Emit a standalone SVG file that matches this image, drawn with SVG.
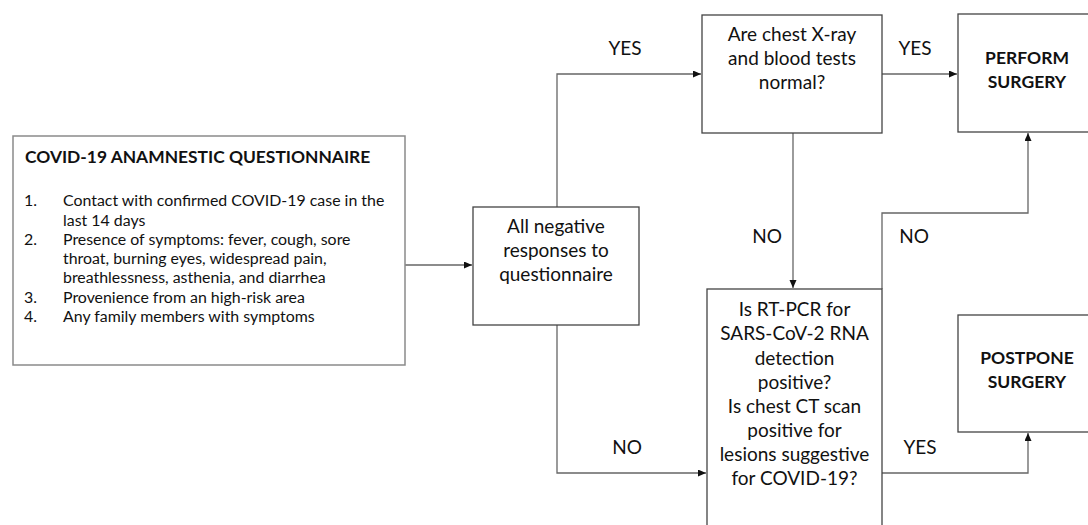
<svg xmlns="http://www.w3.org/2000/svg" width="1088" height="525" viewBox="0 0 1088 525">
<style>
.box{fill:#fff;stroke:#444;stroke-width:1.3}
.qbox{fill:#fff;stroke:#8a8a8a;stroke-width:1.5}
.conn{fill:none;stroke:#666;stroke-width:1.3}
text{font-family:Lato,"Liberation Sans",sans-serif;fill:#111}
.n{font-size:19px;text-anchor:middle}
.nb{font-size:17.5px;text-anchor:middle;font-weight:bold}
.q{font-size:15.9px}
.qt{font-size:17.4px;font-weight:bold}
.lbl{font-size:19px;text-anchor:middle}
</style>
<defs>
<marker id="arr" markerWidth="9" markerHeight="8" refX="8" refY="3.5" orient="auto" markerUnits="userSpaceOnUse">
<path d="M0,0 L8,3.5 L0,7 z" fill="#111"/>
</marker>
</defs>
<rect width="1088" height="525" fill="#fff"/>
<g id="connectors">
<path class="conn" d="M405,265 H472" marker-end="url(#arr)"/>
<path class="conn" d="M557,207 V74 H701" marker-end="url(#arr)"/>
<path class="conn" d="M557,325 V473 H706" marker-end="url(#arr)"/>
<path class="conn" d="M882,74 H957" marker-end="url(#arr)"/>
<path class="conn" d="M793,133 V288" marker-end="url(#arr)"/>
<path class="conn" d="M882,289 V213 H1028 V133" marker-end="url(#arr)"/>
<path class="conn" d="M882,473 H1028 V433" marker-end="url(#arr)"/>
</g>
<g id="labels">
<text class="lbl" x="625" y="55">YES</text>
<text class="lbl" x="915" y="55">YES</text>
<text class="lbl" x="767" y="243">NO</text>
<text class="lbl" x="914" y="243">NO</text>
<text class="lbl" x="627" y="454">NO</text>
<text class="lbl" x="920" y="454">YES</text>
</g>
<g id="questionnaire">
<rect class="qbox" x="13" y="136" width="392" height="229"/>
<text class="qt" x="25" y="163">COVID-19 ANAMNESTIC QUESTIONNAIRE</text>
<text class="q" x="24" y="206">1.</text>
<text class="q" x="63" y="206">Contact with confirmed COVID-19 case in the</text>
<text class="q" x="63" y="225.5">last 14 days</text>
<text class="q" x="24" y="245">2.</text>
<text class="q" x="63" y="245">Presence of symptoms: fever, cough, sore</text>
<text class="q" x="63" y="264">throat, burning eyes, widespread pain,</text>
<text class="q" x="63" y="283">breathlessness, asthenia, and diarrhea</text>
<text class="q" x="24" y="303">3.</text>
<text class="q" x="63" y="303">Provenience from an high-risk area</text>
<text class="q" x="24" y="322">4.</text>
<text class="q" x="63" y="322">Any family members with symptoms</text>
</g>
<g id="allneg">
<rect class="box" x="473" y="207" width="166" height="118"/>
<text class="n" x="556" y="233">All negative</text>
<text class="n" x="556" y="257">responses to</text>
<text class="n" x="556" y="281">questionnaire</text>
</g>
<g id="arechest">
<rect class="box" x="702" y="15" width="180" height="118"/>
<text class="n" x="792" y="41">Are chest X-ray</text>
<text class="n" x="792" y="65">and blood tests</text>
<text class="n" x="792" y="89">normal?</text>
</g>
<g id="perform">
<rect class="box" x="958" y="14" width="140" height="118"/>
<text class="nb" x="1027" y="64">PERFORM</text>
<text class="nb" x="1027" y="88">SURGERY</text>
</g>
<g id="postpone">
<rect class="box" x="958" y="315" width="140" height="117"/>
<text class="nb" x="1027" y="364">POSTPONE</text>
<text class="nb" x="1027" y="388">SURGERY</text>
</g>
<g id="rtpcr">
<rect class="box" x="707" y="289" width="175" height="250"/>
<text class="n" x="794.5" y="316">Is RT-PCR for</text>
<text class="n" x="794.5" y="340">SARS-CoV-2 RNA</text>
<text class="n" x="794.5" y="365">detection</text>
<text class="n" x="794.5" y="389">positive?</text>
<text class="n" x="794.5" y="413">Is chest CT scan</text>
<text class="n" x="794.5" y="437">positive for</text>
<text class="n" x="794.5" y="461">lesions suggestive</text>
<text class="n" x="794.5" y="485">for COVID-19?</text>
</g>
</svg>
